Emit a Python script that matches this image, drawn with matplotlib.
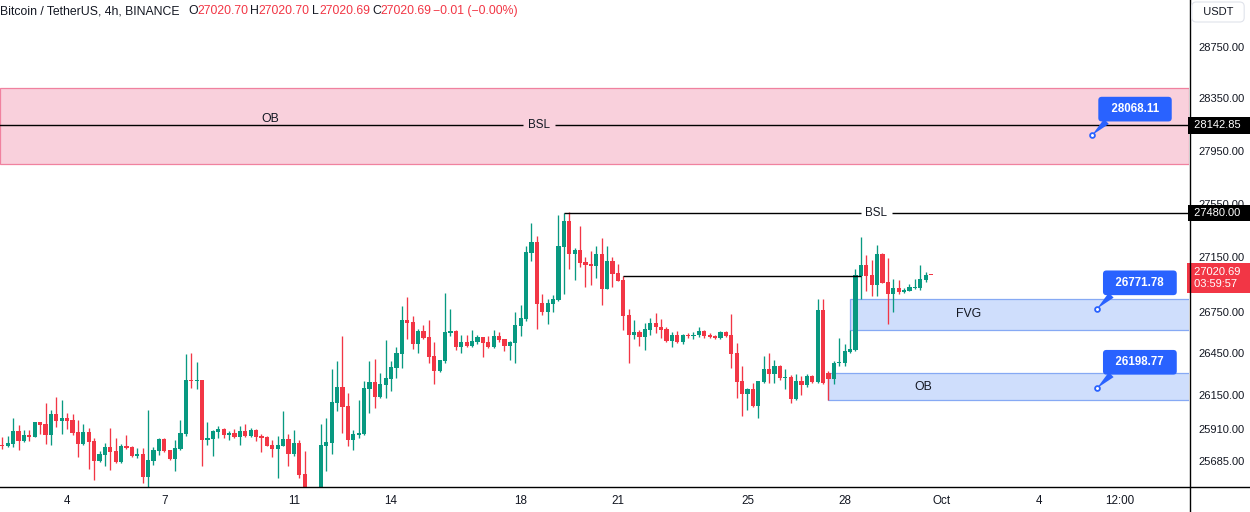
import matplotlib
matplotlib.use('Agg')
import matplotlib.pyplot as plt
import numpy as np
from matplotlib.patches import Rectangle
from matplotlib.lines import Line2D
from matplotlib.ticker import FixedLocator, FuncFormatter, NullLocator, NullFormatter

plt.rcParams['font.family'] = ['Liberation Sans', 'DejaVu Sans']

# ---------------- data (BTC/USDT 4h, Sep 2 00:00 -> Sep 30 16:00) ----------------
opens = [25800, 25791, 25805, 25898, 25826, 25869, 25855, 25956, 25948, 25869,
         26013, 25963, 25991, 25970, 25891, 25805, 25891, 25826, 25683, 25726,
         25784, 25755, 25676, 25791, 25784, 25719, 25733, 25576, 25683, 25755,
         25841, 25762, 25698, 25769, 25876, 26256, 26249, 26256, 25834, 25841,
         25891, 25912, 25869, 25884, 25855, 25898, 25862, 25905, 25862, 25855,
         25798, 25769, 25791, 25841, 25733, 25812, 25597, 25440, 25400, 25430,
         25791, 25812, 26091, 26206, 26070, 25834, 25869, 25876, 26192, 26242,
         26134, 26220, 26263, 26342, 26442, 26693, 26678, 26514, 26614, 26564,
         26428, 26321, 26392, 26593, 26614, 26492, 26528, 26499, 26528, 26564,
         26528, 26492, 26571, 26550, 26499, 26521, 26650, 26700, 27184, 27265,
         26815, 26750, 26807, 26836, 27228, 27421, 27176, 27206, 27117, 27102,
         27088, 27176, 26917, 27125, 27036, 26984, 26729, 26578, 26600, 26564,
         26621, 26671, 26643, 26628, 26535, 26578, 26528, 26585, 26571, 26578,
         26614, 26578, 26571, 26557, 26600, 26578, 26449, 26249, 26156, 26192,
         26070, 26242, 26335, 26299, 26356, 26270, 26278, 26120, 26249, 26220,
         26285, 26242, 26764, 26306, 26263, 26378, 26378, 26457, 26471, 27014,
         27095, 27021, 26947, 27176, 26969, 26880, 26925, 26895, 26903, 26925,
         26925, 26984, 27020.70]
highs = [25855, 25862, 25991, 25941, 25905, 25905, 25960, 25960, 26091, 26041,
         26134, 26113, 26020, 26013, 25970, 25948, 25920, 25848, 25755, 25812,
         25920, 25848, 25805, 25869, 25791, 25777, 25777, 26041, 25784, 25845,
         25848, 25765, 25834, 25977, 26442, 26449, 26385, 26260, 25956, 25900,
         25934, 25915, 25898, 25912, 25934, 25948, 25920, 25908, 25876, 25862,
         25834, 25862, 26034, 25876, 25905, 25834, 25755, 25470, 25480, 25948,
         25991, 26335, 26392, 26571, 26163, 25905, 26113, 26249, 26392, 26406,
         26306, 26542, 26392, 26492, 26793, 26858, 26721, 26628, 26657, 26693,
         26528, 26402, 26888, 26772, 26621, 26585, 26578, 26621, 26578, 26567,
         26571, 26621, 26600, 26553, 26535, 26750, 26800, 27236, 27406, 27310,
         26880, 26843, 26873, 27465, 27480, 27490, 27221, 27384, 27154, 27199,
         27236, 27295, 27236, 27154, 27102, 27012, 26772, 26693, 26621, 26671,
         26707, 26743, 26700, 26643, 26600, 26614, 26588, 26593, 26600, 26636,
         26617, 26593, 26578, 26614, 26614, 26736, 26521, 26356, 26199, 26235,
         26252, 26428, 26449, 26399, 26363, 26335, 26292, 26299, 26285, 26299,
         26292, 26843, 26843, 26320, 26392, 26557, 26514, 26621, 27065, 27302,
         27169, 27132, 27243, 27180, 27147, 26991, 26984, 26925, 26954, 26991,
         27095, 27043, 27020.70]
lows = [25769, 25784, 25784, 25762, 25819, 25826, 25852, 25876, 25805, 25798,
        25927, 25876, 25912, 25869, 25712, 25800, 25626, 25554, 25676, 25648,
        25619, 25669, 25669, 25769, 25712, 25705, 25533, 25476, 25655, 25726,
        25748, 25690, 25612, 25765, 25862, 26199, 26192, 25648, 25798, 25719,
        25848, 25848, 25834, 25848, 25798, 25855, 25855, 25826, 25748, 25788,
        25712, 25569, 25788, 25648, 25719, 25569, 25400, 25350, 25360, 25400,
        25612, 25733, 26034, 25884, 25791, 25762, 25848, 25869, 26020, 26055,
        26130, 26127, 26177, 26270, 26342, 26550, 26478, 26449, 26550, 26378,
        26227, 26318, 26378, 26571, 26471, 26449, 26492, 26496, 26514, 26421,
        26489, 26489, 26528, 26464, 26399, 26378, 26571, 26686, 27125, 26628,
        26729, 26664, 26750, 26830, 26880, 27065, 26984, 27080, 26932, 26947,
        26999, 26800, 26914, 26932, 26973, 26621, 26378, 26550, 26499, 26471,
        26578, 26593, 26557, 26532, 26492, 26525, 26514, 26557, 26550, 26564,
        26557, 26557, 26550, 26554, 26564, 26342, 26127, 26005, 26041, 26066,
        25991, 26238, 26235, 26235, 26256, 26192, 26091, 26116, 26149, 26206,
        26235, 26235, 26232, 26113, 26227, 26356, 26356, 26454, 26468, 26843,
        26903, 26866, 26866, 26958, 26664, 26750, 26880, 26888, 26900, 26918,
        26910, 26969, 27020.69]
closes = [25792, 25812, 25898, 25826, 25869, 25855, 25956, 25941, 25869, 26013,
          25963, 25991, 25963, 25884, 25805, 25891, 25819, 25683, 25733, 25784,
          25748, 25676, 25791, 25777, 25719, 25733, 25576, 25690, 25762, 25841,
          25755, 25698, 25777, 25884, 26256, 26249, 26256, 25834, 25848, 25898,
          25912, 25869, 25884, 25855, 25898, 25862, 25905, 25855, 25848, 25791,
          25769, 25798, 25841, 25733, 25812, 25590, 25440, 25400, 25430, 25798,
          25819, 26098, 26206, 26063, 25834, 25876, 25884, 26199, 26242, 26134,
          26227, 26270, 26349, 26449, 26693, 26671, 26514, 26614, 26557, 26421,
          26321, 26399, 26600, 26614, 26492, 26528, 26499, 26535, 26564, 26521,
          26492, 26571, 26542, 26499, 26528, 26657, 26707, 27191, 27265, 26807,
          26750, 26815, 26843, 27236, 27421, 27176, 27206, 27110, 27095, 27088,
          27176, 26917, 27125, 27028, 26977, 26721, 26578, 26600, 26564, 26628,
          26671, 26636, 26621, 26535, 26578, 26528, 26585, 26571, 26585, 26614,
          26571, 26564, 26557, 26600, 26571, 26442, 26242, 26156, 26192, 26070,
          26249, 26335, 26299, 26356, 26270, 26278, 26120, 26249, 26220, 26285,
          26242, 26764, 26235, 26263, 26378, 26385, 26464, 26478, 27021, 27095,
          27014, 26947, 27176, 26962, 26880, 26925, 26895, 26910, 26932, 26932,
          26991, 27020.70, 27020.69]

# x tick labels (bar index -> label)
xtick_pos = [12, 30, 54, 72, 96, 114, 138, 156, 174, 192, 207]
xtick_lab = ['4', '7', '11', '14', '18', '21', '25', '28', 'Oct', '4', '12:00']
# y tick labels (TradingView log-scale values)
ytick_vals = [28750, 28350, 27950, 27550, 27150, 26750, 26450, 26150, 25910, 25685]

# drawings
pink_zone = (27849, 28431)
bsl_levels = [28142.85, 27480.00]
bsl_start = [-21, 104]
mid_line = (27012, 115, 159)
fvg_zone = (26621, 26843, 157)
ob_zone = (26113, 26306, 153)
callouts = [(201.8, 28068.11), (202.7, 26771.78), (202.7, 26198.77)]
countdown = '03:59:57'

UP, DOWN, TXT = '#089981', '#f23645', '#131722'
BLUE = '#2962ff'

n = len(opens)
xs = np.arange(n)
o = np.array(opens); h = np.array(highs); l = np.array(lows); c = np.array(closes)
cols = [UP if cc >= oo else DOWN for oo, cc in zip(o, c)]

fig = plt.figure(figsize=(12.5, 5.12), dpi=100)
ax = fig.add_axes([0, 25 / 512, 1189 / 1250, 487 / 512])
ax.set_yscale('log')
XR = 219.76
ax.set_xlim(-0.426, XR)
ax.set_ylim(25504, 29120)
for s in ax.spines.values():
    s.set_visible(False)

# zones
ax.axhspan(pink_zone[0], pink_zone[1], facecolor='#f9d0dc', edgecolor='#f0819f', lw=0.9, zorder=0.5)
for (lo, hi, x0) in [fvg_zone, ob_zone]:
    ax.add_patch(Rectangle((x0, lo), XR + 5 - x0, hi - lo, facecolor='#cfdefc',
                           edgecolor='#86a9f4', lw=0.9, zorder=0.6))

# candles
ax.vlines(xs, l, h, colors=cols, lw=0.95, zorder=2)
bh = np.maximum(np.abs(c - o), 6)
ax.bar(xs, bh, bottom=np.minimum(o, c), width=0.76, color=cols, lw=0, zorder=3)

# BSL lines with centred gaps
for lvl, x0 in zip(bsl_levels, bsl_start):
    mid = (x0 + XR) / 2
    gap = 2.9
    ax.hlines(lvl, x0, mid - gap, color='black', lw=1, zorder=4)
    ax.hlines(lvl, mid + gap, XR + 5, color='black', lw=1, zorder=4)
    ax.text(mid, lvl, 'BSL', ha='center', va='center', fontsize=8.4, color=TXT, zorder=5)
ax.hlines(mid_line[0], mid_line[1], mid_line[2], color='black', lw=1, zorder=4)

ax.text(49.6, 28192, 'OB', ha='center', va='center', fontsize=8.8, color=TXT)
ax.text(179, np.sqrt(fvg_zone[0] * fvg_zone[1]), 'FVG', ha='center', va='center', fontsize=8.8, color=TXT)
ax.text(170.5, np.sqrt(ob_zone[0] * ob_zone[1]), 'OB', ha='center', va='center', fontsize=8.8, color=TXT)

# callouts
for cx, cp in callouts:
    ax.annotate(f'  {cp:.2f}  ', xy=(cx, cp), xytext=(43, 26), textcoords='offset pixels',
                ha='center', va='center', color='white', fontsize=8.3, fontweight='bold',
                bbox=dict(boxstyle='round,pad=0.55,rounding_size=0.3', fc=BLUE, ec='none'),
                arrowprops=dict(arrowstyle='wedge,tail_width=0.6,shrink_factor=0.5', fc=BLUE,
                                ec='none', shrinkA=0, shrinkB=0, relpos=(0.14, 0.0)),
                zorder=6)
    ax.scatter([cx], [cp], s=12, facecolor='white', edgecolor=BLUE, lw=1.3, zorder=7)

# axes ticks
ax.yaxis.tick_right()
ax.yaxis.set_major_locator(FixedLocator(ytick_vals))
ax.yaxis.set_major_formatter(FuncFormatter(lambda v, p: f'{v:.2f}'))
ax.yaxis.set_minor_locator(NullLocator())
ax.yaxis.set_minor_formatter(NullFormatter())
ax.tick_params(axis='y', length=0, pad=7, labelsize=8.0, labelcolor=TXT)
ax.xaxis.set_major_locator(FixedLocator(xtick_pos))
ax.set_xticklabels(xtick_lab)
ax.tick_params(axis='x', length=0, pad=6, labelsize=8.4, labelcolor=TXT)

# right-axis price labels
ytr = ax.get_yaxis_transform()
for lvl in bsl_levels:
    ax.annotate(f' {lvl:.2f}  ', xy=(1, lvl), xycoords=ytr, xytext=(2, 0), textcoords='offset pixels',
                ha='left', va='center', fontsize=8.0, color='white', annotation_clip=False,
                bbox=dict(boxstyle='square,pad=0.3', fc='black', ec='none'), zorder=8)
ax.annotate(f' {c[-1]:.2f}  \n {countdown}  ', xy=(1, c[-1]), xycoords=ytr, xytext=(2, 8),
            textcoords='offset pixels', ha='left', va='top', fontsize=8.0, color='white',
            linespacing=1.25, annotation_clip=False,
            bbox=dict(boxstyle='square,pad=0.35', fc=DOWN, ec='none'), zorder=8)

# frame lines
fig.add_artist(Line2D([0, 1], [25 / 512, 25 / 512], transform=fig.transFigure, color='black', lw=1))
fig.add_artist(Line2D([1189.5 / 1250, 1189.5 / 1250], [0, 1], transform=fig.transFigure, color='black', lw=1))

fig.text(1218 / 1250, 1 - 12 / 512, '  USDT  ', ha='center', va='center', fontsize=8.0, color=TXT,
         bbox=dict(boxstyle='round,pad=0.45,rounding_size=0.4', fc='white', ec='#e0e3eb', lw=0.8))

# header
hy = 1 - 11 / 512
fs = 8.8
fig.text(0.5 / 1250, hy, 'Bitcoin / TetherUS, 4h, BINANCE', ha='left', va='center', fontsize=fs, color=TXT)
chg = c[-1] - c[-2]
pct = chg / c[-2] * 100
pieces = [(188, 'O', TXT), (197, f'{o[-1]:.2f}', DOWN), (250, 'H', TXT), (258.5, f'{h[-1]:.2f}', DOWN),
          (312, 'L', TXT), (319, f'{l[-1]:.2f}', DOWN), (372, 'C', TXT), (380, f'{c[-1]:.2f}', DOWN),
          (433, f'\u2212{abs(chg):.2f} (\u2212{abs(pct):.2f}%)', DOWN)]
for px, t, col in pieces:
    fig.text(px / 1250, hy, t, ha='left', va='center', fontsize=fs, color=col)

fig.savefig('out.png', dpi=100)
